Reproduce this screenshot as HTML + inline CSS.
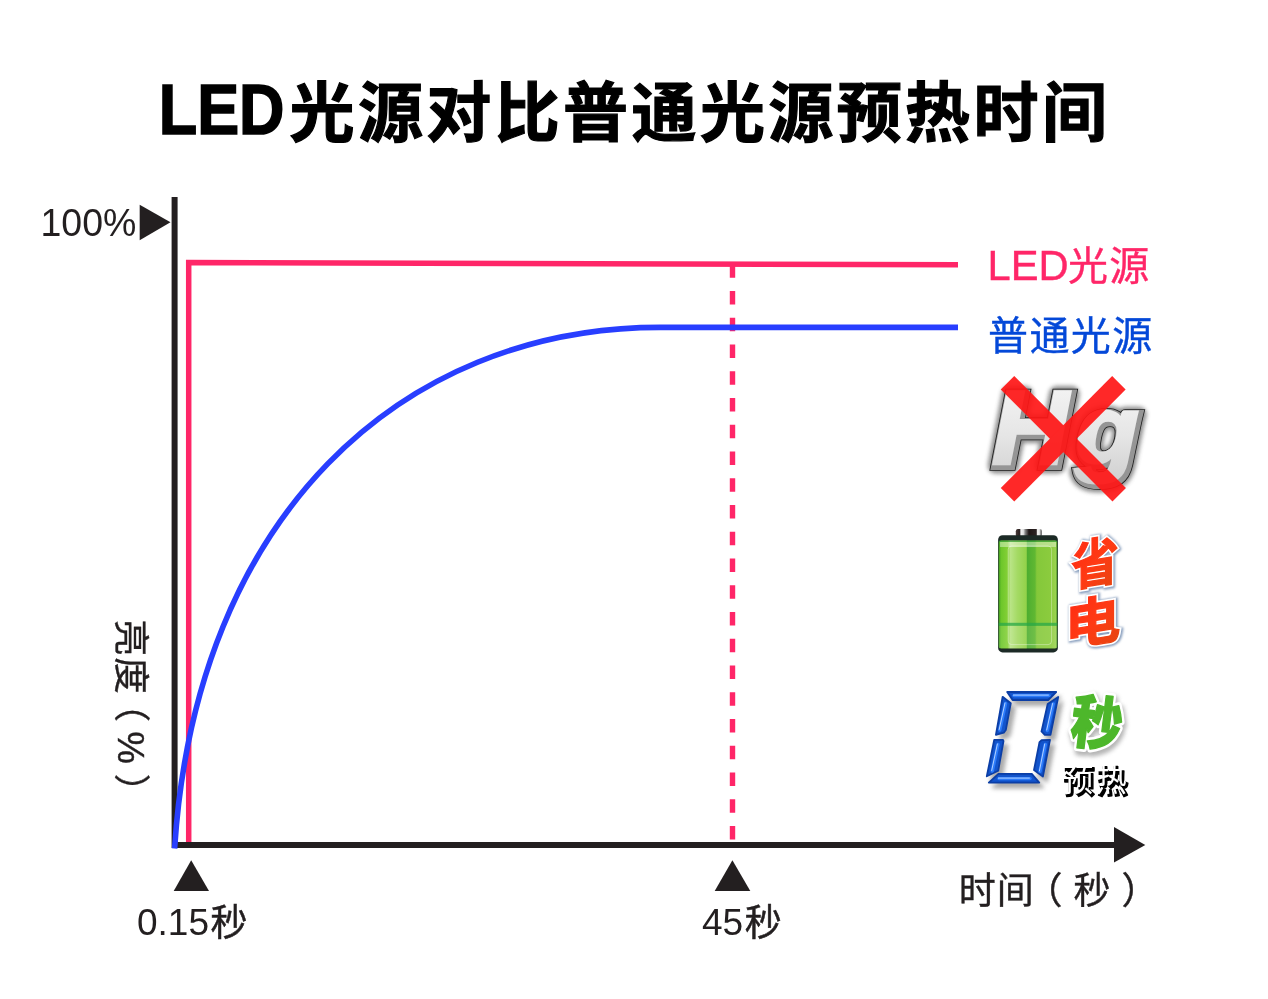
<!DOCTYPE html>
<html lang="zh-CN">
<head>
<meta charset="utf-8">
<title>LED光源对比普通光源预热时间</title>
<style>
html,body{margin:0;padding:0;background:#fff;}
body{width:1268px;height:999px;overflow:hidden;position:relative;}
svg{position:absolute;left:0;top:0;display:block;}
.t{font-family:"Liberation Sans","Noto Sans CJK SC",sans-serif;}
</style>
</head>
<body>
<svg width="1268" height="999" viewBox="0 0 1268 999">
<defs>
<filter id="blur2" x="-20%" y="-20%" width="140%" height="140%"><feGaussianBlur stdDeviation="2"/></filter>
<filter id="blur1" x="-20%" y="-20%" width="140%" height="140%"><feGaussianBlur stdDeviation="1.2"/></filter>
<linearGradient id="silver" x1="0" y1="0" x2="0" y2="1">
<stop offset="0" stop-color="#f7f7f7"/><stop offset="0.55" stop-color="#e6e6e6"/><stop offset="1" stop-color="#cfcfcf"/>
</linearGradient>
<linearGradient id="batbody" x1="0" y1="0" x2="1" y2="0">
<stop offset="0" stop-color="#3f9a1f"/><stop offset="0.04" stop-color="#6cc62a"/><stop offset="0.15" stop-color="#84d036"/>
<stop offset="0.2" stop-color="#b9e486"/><stop offset="0.32" stop-color="#a4da64"/><stop offset="0.47" stop-color="#93d24a"/>
<stop offset="0.49" stop-color="#4eae30"/><stop offset="0.62" stop-color="#60b832"/><stop offset="0.65" stop-color="#84c83a"/>
<stop offset="0.9" stop-color="#8ccc3e"/><stop offset="0.97" stop-color="#9ad24f"/><stop offset="1" stop-color="#3f8f22"/>
</linearGradient>
<linearGradient id="batcap" x1="0" y1="0" x2="1" y2="0">
<stop offset="0" stop-color="#4a3c3a"/><stop offset="0.14" stop-color="#2a2020"/><stop offset="0.2" stop-color="#f2f2f2"/><stop offset="0.29" stop-color="#e0e0e0"/>
<stop offset="0.36" stop-color="#858585"/><stop offset="0.5" stop-color="#1e1616"/><stop offset="0.78" stop-color="#2c2424"/><stop offset="0.83" stop-color="#f5f5f5"/>
<stop offset="0.9" stop-color="#e6e6e6"/><stop offset="0.94" stop-color="#9a9a9a"/><stop offset="1" stop-color="#6a6a6a"/>
</linearGradient>
<linearGradient id="redg" x1="0" y1="0" x2="1" y2="1">
<stop offset="0" stop-color="#ff2a12"/><stop offset="0.5" stop-color="#ff3a14"/><stop offset="1" stop-color="#e2470f"/>
</linearGradient>
</defs>
<rect width="1268" height="999" fill="#fff"/>

<!-- title -->
<text id="tled" class="t" transform="translate(158.8,134.3) scale(0.898,1)" font-size="70" font-weight="700" fill="#000" stroke="#000" stroke-width="1.6">LED</text>
<text id="title" class="t" x="289.5" y="135.5" font-size="65" font-weight="700" fill="#000" stroke="#000" stroke-width="1.2" letter-spacing="3.4">光源对比普通光源预热时间</text>

<!-- LED line (pink) -->
<path id="led" d="M188.7,842 V262.6 L958,264.7" fill="none" stroke="#ff2668" stroke-width="5.5" stroke-linejoin="miter"/>
<!-- dashed 45s -->
<path id="dash" d="M732.5,264.25 V842" fill="none" stroke="#ff2668" stroke-width="5.4" stroke-dasharray="13.4 13.35"/>

<!-- axes -->
<path d="M174.6,197 V848" stroke="#231f20" stroke-width="6" fill="none"/>
<path d="M172,845 H1116" stroke="#231f20" stroke-width="6" fill="none"/>
<path d="M1114,827 L1145.3,845 L1114,862.5 Z" fill="#231f20"/>

<!-- normal source (blue) -->
<path id="blue" d="M174.6,848.5 L174.7,847 C196.1,517.5 400,327.4 660.2,327.4 H958" fill="none" stroke="#283eff" stroke-width="5.6"/>

<!-- markers -->
<path d="M139.7,204.7 L170.5,222.3 L139.7,240.3 Z" fill="#231f20"/>
<path d="M173.7,891 L191.2,860.3 L209,891 Z" fill="#231f20"/>
<path d="M714.7,891 L732.4,860.3 L750.3,891 Z" fill="#231f20"/>

<!-- labels -->
<text id="l100" class="t" transform="translate(40.5,236.4) scale(1,1.055)" font-size="37.5" fill="#231f20">100%</text>
<text id="l015" class="t" x="137" y="934.6" font-size="37" fill="#231f20">0.15<tspan dx="1.5" dy="1.5" stroke="#231f20" stroke-width="0.5">秒</tspan></text>
<text id="l45" class="t" x="702" y="934.6" font-size="37" fill="#231f20">45<tspan dx="1.5" dy="1.5" stroke="#231f20" stroke-width="0.5">秒</tspan></text>
<text id="ltime" class="t" x="958.7" y="904" font-size="37" fill="#231f20" stroke="#231f20" stroke-width="0.4" letter-spacing="1">时间<tspan dx="-9.2">（</tspan><tspan dx="10">秒</tspan><tspan dx="10">）</tspan></text>
<text id="lbright" class="t" transform="translate(117.5,619.5) rotate(90)" font-size="36.5" fill="#231f20" stroke="#231f20" stroke-width="0.4" letter-spacing="1.2">亮度<tspan dx="-9.5">（</tspan><tspan dx="8.5">%</tspan><tspan dx="8.5">）</tspan></text>

<text id="lled" class="t" x="987.5" y="280" font-size="40" fill="#ff2668" stroke="#ff2668" stroke-width="0.4"><tspan font-size="41.7">LED</tspan><tspan letter-spacing="1.2" dx="-0.5">光源</tspan></text>
<text id="lnorm" class="t" x="988" y="350" font-size="40" fill="#0448d8" stroke="#0448d8" stroke-width="0.4" letter-spacing="1.4">普通光源</text>

<!-- Hg crossed -->
<g id="hg" font-family="'Liberation Sans',sans-serif" font-weight="700" font-style="italic" font-size="103" stroke-linejoin="miter">
<g filter="url(#blur2)" opacity="0.9" fill="#808080" stroke="#808080" stroke-width="16" stroke-linejoin="round"><text transform="translate(994,466) scale(1.02,1)">H</text><text transform="translate(1077.5,464.5) scale(1,0.93)">g</text></g>
<g fill="#1a1a1a" stroke="#1a1a1a" stroke-width="10.6"><text transform="translate(994,466) scale(1.02,1)">H</text><text transform="translate(1077.5,464.5) scale(1,0.93)">g</text></g>
<g fill="#959595" stroke="#959595" stroke-width="9"><text transform="translate(994,466) scale(1.02,1)">H</text><text transform="translate(1077.5,464.5) scale(1,0.93)">g</text></g>
<g fill="url(#silver)" stroke="url(#silver)" stroke-width="3.4" transform="translate(-1.7,-1.6)"><text transform="translate(994,466) scale(1.02,1)">H</text><text transform="translate(1077.5,464.5) scale(1,0.93)">g</text></g>
</g>
<g id="redx" stroke="#ff1616" stroke-width="19" opacity="0.92" fill="none">
<path d="M1007.5,382.7 L1119.2,494.8"/>
<path d="M1118.9,382.7 L1007.5,494.8"/>
</g>

<!-- battery -->
<g id="battery">
<rect x="1015.8" y="529" width="26.2" height="8" rx="2.2" fill="url(#batcap)"/>
<rect x="998.1" y="535.2" width="59.8" height="117.2" rx="4.5" fill="#1c2a26"/>
<rect x="998.7" y="540.6" width="58.6" height="108" rx="2.5" fill="url(#batbody)"/>
<rect x="1008.2" y="546" width="43.4" height="98.6" rx="3.5" fill="none" stroke="#fff" stroke-width="0.9" opacity="0.4"/>
<rect x="998.7" y="622.8" width="58.6" height="3" fill="#2aa84a" opacity="0.75"/>
<rect x="998.7" y="626" width="58.6" height="22" fill="#fff" opacity="0.1"/>
<rect x="998.7" y="540.6" width="58.6" height="1.2" fill="#2f9a3a" opacity="0.8"/>
<rect x="1000" y="542" width="56" height="5" fill="#fff" opacity="0.4"/>
</g>

<!-- 省电 -->
<g id="sheng" font-family="'Liberation Sans','Noto Sans CJK SC',sans-serif" font-weight="700" font-size="53" stroke-linejoin="miter" transform="translate(1068,0) skewY(-9)">
<g filter="url(#blur1)" opacity="0.85" fill="#6f8ab0" stroke="#6f8ab0" stroke-width="6"><text transform="translate(4.2,588.3) scale(0.9,1)">省</text><text transform="translate(-2.2,646.5) scale(1.05,1)">电</text></g>
<g fill="#fff" stroke="#fff" stroke-width="4.5"><text transform="translate(3.2,586.8) scale(0.9,1)">省</text><text transform="translate(-3.2,645.0) scale(1.05,1)">电</text></g>
<g fill="url(#redg)" stroke="url(#redg)" stroke-width="1.2"><text transform="translate(3.2,586.8) scale(0.9,1)">省</text><text transform="translate(-3.2,645.0) scale(1.05,1)">电</text></g>
</g>

<!-- seven-seg zero -->
<g id="zero">
<g filter="url(#blur2)" opacity="0.55" transform="translate(4,5)" fill="#666" stroke="#666" stroke-width="2" stroke-linejoin="round"><path d="M1007.2,692 L1056.2,692 L1048.2,700 L1012.6,700 Z"/><path d="M1002.6,696.8 L1010.8,703.2 L1005.8,730 L1003.8,732.6 L995.9,734.8 Z"/><path d="M1058.2,697 L1050.5,734.9 L1044.8,734.9 L1041.5,731.4 L1047.7,704 Z"/><path d="M994.2,739.9 L1003,739.9 L1003.5,741 L998.2,770.8 L986.8,776.3 Z"/><path d="M1050,739.9 L1042.9,776.6 L1034,770 L1039.5,742.2 L1041.6,740.2 Z"/><path d="M998.4,773.8 L1031.8,773.8 L1039.2,782.6 L988.8,782.6 Z"/></g>
<g fill="#1254cc" stroke="#0b3ea6" stroke-width="1.8" stroke-linejoin="round"><path d="M1007.2,692 L1056.2,692 L1048.2,700 L1012.6,700 Z"/><path d="M1002.6,696.8 L1010.8,703.2 L1005.8,730 L1003.8,732.6 L995.9,734.8 Z"/><path d="M1058.2,697 L1050.5,734.9 L1044.8,734.9 L1041.5,731.4 L1047.7,704 Z"/><path d="M994.2,739.9 L1003,739.9 L1003.5,741 L998.2,770.8 L986.8,776.3 Z"/><path d="M1050,739.9 L1042.9,776.6 L1034,770 L1039.5,742.2 L1041.6,740.2 Z"/><path d="M998.4,773.8 L1031.8,773.8 L1039.2,782.6 L988.8,782.6 Z"/></g>
<g fill="none" stroke="#2f80ff" stroke-width="3.4" stroke-linecap="round" opacity="0.9"><path d="M1014,695.6 L1049,695.6"/><path d="M1005.6,703.5 L999.8,730"/><path d="M1053.2,704 L1047.3,730.5"/><path d="M998,744.5 L992.3,771"/><path d="M1045.3,744.5 L1040,771.5"/><path d="M999,778.6 L1030,778.6"/></g>
<g fill="none" stroke="#d6e7ff" stroke-width="1" stroke-linecap="round" opacity="0.8" transform="translate(-0.6,-0.5)"><path d="M1014,695.6 L1049,695.6"/><path d="M1005.6,703.5 L999.8,730"/><path d="M1053.2,704 L1047.3,730.5"/><path d="M998,744.5 L992.3,771"/><path d="M1045.3,744.5 L1040,771.5"/><path d="M999,778.6 L1030,778.6"/></g>
</g>

<!-- 秒 green -->
<g id="miao" font-family="'Liberation Sans','Noto Sans CJK SC',sans-serif" font-weight="900" font-size="52" stroke-linejoin="round" transform="rotate(7 1096 722) translate(1096,722) scale(0.98,1.12) translate(-1096,-722)">
<text x="1073" y="745" fill="#777" stroke="#777" stroke-width="7" filter="url(#blur2)" opacity="0.55">秒</text>
<text x="1071" y="742" fill="#fff" stroke="#fff" stroke-width="6">秒</text>
<text x="1071" y="742" fill="#4db72b" stroke="#4db72b" stroke-width="1.2">秒</text>
</g>

<!-- 预热 -->
<g id="yure" font-family="'Liberation Sans','Noto Sans CJK SC',sans-serif" font-weight="700" font-size="31" stroke-linejoin="round">
<text x="1064" y="793" fill="#fff" stroke="#fff" stroke-width="3" letter-spacing="2.6">预热</text>
<text x="1064" y="793" fill="#000" stroke="#000" stroke-width="1.4" letter-spacing="2.6">预热</text>
<text x="1062.2" y="791" fill="#fff" font-weight="400" letter-spacing="2.6">预热</text>
</g>
</svg>
</body>
</html>
